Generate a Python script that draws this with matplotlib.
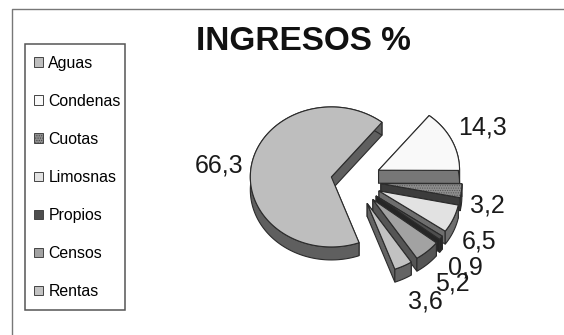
import numpy as np
import matplotlib
matplotlib.use('Agg')
import matplotlib.pyplot as plt
from matplotlib.patches import Polygon, Patch, Rectangle

plt.rcParams['font.family'] = ['Liberation Sans', 'DejaVu Sans']
plt.rcParams['hatch.linewidth'] = 0.5

categories = ['Aguas', 'Condenas', 'Cuotas', 'Limosnas', 'Propios', 'Censos', 'Rentas']
values = [66.3, 14.3, 3.2, 6.5, 0.9, 5.2, 3.6]

top_colors = ['#bebebe', '#f9f9f9', '#8e8e8e', '#e2e2e2', '#4e4e4e', '#a2a2a2', '#c2c2c2']
side_colors = ['#5f5f5f', '#777777', '#3c3c3c', '#6e6e6e', '#262626', '#555555', '#646464']
hatches = [None, None, '.......', None, None, None, None]
label_xy = [(219, 165), (482, 128), (487, 206), (479, 242), (465, 268), (452, 284), (425, 302)]

# pie geometry, in pixels
cx, cy = 356, 181
rx, ry = 81, 70
explode = 25
depth = 13
start = 160.0
edge = '#2b2b2b'

fig = plt.figure(figsize=(5.64, 3.35), dpi=100)
ax = fig.add_axes([0, 0, 1, 1])
ax.set_xlim(0, 564)
ax.set_ylim(335, 0)
ax.axis('off')

# page frame: top and left rules only
ax.plot([11.5, 11.5, 564], [335, 8.5, 8.5], color='#777777', lw=1.0)


def wedge_points(a0, a1):
    mid = np.radians((a0 + a1) / 2)
    ox = cx + explode * np.sin(mid)
    oy = cy - explode * np.cos(mid)
    t = np.radians(np.linspace(a0, a1, max(int(a1 - a0), 2) + 1))
    return ox, oy, ox + rx * np.sin(t), oy - ry * np.cos(t)


def add_poly(xs, ys, face, hatch=None, lw=0.8):
    pts = np.column_stack([xs, ys])
    if hatch:
        ax.add_patch(Polygon(pts, facecolor=face, edgecolor='#555555', hatch=hatch, lw=0))
        ax.add_patch(Polygon(pts, fill=False, edgecolor=edge, lw=lw))
    else:
        ax.add_patch(Polygon(pts, facecolor=face, edgecolor=edge, lw=lw))


# slices run clockwise from the start angle, drawn from the back to the front
angle = start
for v, top, side, h in zip(values, top_colors, side_colors, hatches):
    sweep = v / sum(values) * 360
    ox, oy, xs, ys = wedge_points(angle, angle + sweep)
    for i in (0, -1):
        add_poly([ox, xs[i], xs[i], ox], [oy, ys[i], ys[i] + depth, oy + depth], side)
    add_poly(np.r_[xs, xs[::-1]], np.r_[ys, ys[::-1] + depth], side)
    add_poly(np.r_[ox, xs], np.r_[oy, ys], top, h)
    angle += sweep

for v, (lx, ly) in zip(values, label_xy):
    ax.text(lx, ly, f'{v:.1f}'.replace('.', ','), fontsize=18, color='#1a1a1a',
            ha='center', va='center')

ax.text(303, 41, 'INGRESOS %', fontsize=24, fontweight='bold', color='#111111',
        ha='center', va='center')

# legend box is drawn by hand, the right padding is tighter than the left
ax.add_patch(Rectangle((25, 44), 100, 266, facecolor='white', edgecolor='#555555', lw=1.1))
handles = [Patch(facecolor=t, edgecolor='#444444', hatch=h, lw=0.7, label=c)
           for c, t, h in zip(categories, top_colors, hatches)]
leg = ax.legend(handles=handles, loc='upper left', bbox_to_anchor=(25, 46.5),
                bbox_transform=ax.transData, fontsize=11.4, frameon=False,
                labelspacing=1.458, handlelength=0.55,
                handleheight=0.55, handletextpad=0.35, borderpad=0.58, borderaxespad=0)

fig.savefig('out.png', dpi=100)
